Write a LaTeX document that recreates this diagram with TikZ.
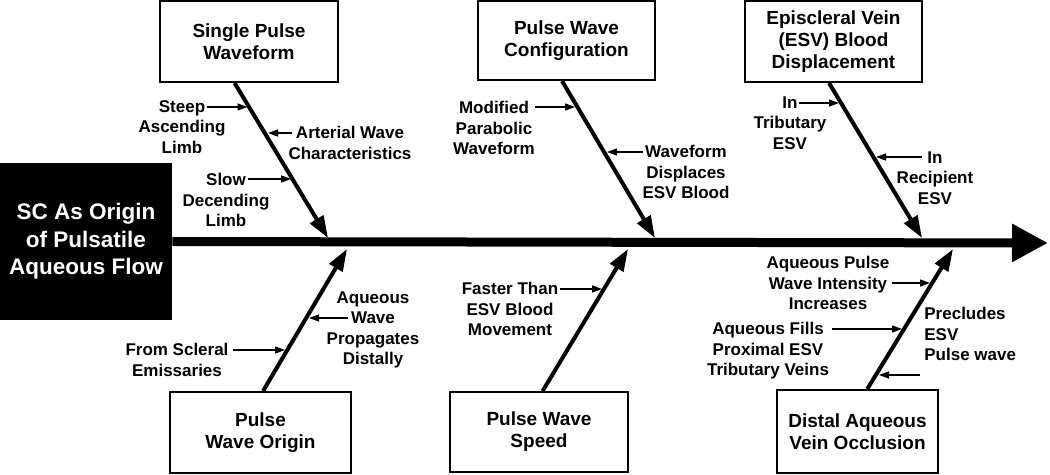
\documentclass[tikz,border=0pt]{standalone}
\usepackage{fontspec}
\setmainfont{Liberation Sans}
\usetikzlibrary{calc}
\usetikzlibrary{arrows.meta}
\tikzset{catbox/.style={draw, line width=1pt, align=center, inner sep=0pt, font=\fontsize{9.5}{11}\selectfont\bfseries}}
\tikzset{sourcebox/.style={fill=black, text=white, align=center, inner sep=0pt, minimum width=86pt, minimum height=78.5pt, font=\fontsize{11.25}{13.75}\selectfont\bfseries}}
\tikzset{cause/.style={align=center, inner sep=0pt, font=\fontsize{8.5}{10.25}\selectfont\bfseries}}
\tikzset{spine/.style={line width=4.5pt, -{Triangle[length=18pt, width=18pt]}}}
\tikzset{bone/.style={line width=2pt, -{Triangle[length=11pt, width=7.5pt]}}}
\tikzset{pointer/.style={line width=0.7pt, -{Triangle[length=5pt, width=3.5pt]}}}

\begin{document}
\begin{tikzpicture}[x=0.5pt, y=-0.5pt]
\useasboundingbox (0,0) rectangle (1050,475);

\node (sc) [sourcebox] at (86,241.5) {SC As Origin\\of Pulsatile\\Aqueous Flow};
\coordinate (head) at (1048,243);
\draw[spine] (sc.east) to (head);

\node (b1) [catbox, minimum width=89pt, minimum height=40.5pt] at (249,41.5) {Single Pulse\\Waveform};
\node (b2) [catbox, minimum width=88.5pt, minimum height=39.5pt] at (566.5,40.5) {Pulse Wave\\Configuration};
\node (b3) [catbox, minimum width=88.5pt, minimum height=40.5pt] at (833.5,41.5) {Episcleral Vein\\(ESV) Blood\\Displacement};
\node (b4) [catbox, minimum width=90.5pt, minimum height=40.5pt] at (260.5,432.5) {Pulse\\Wave Origin};
\node (b5) [catbox, minimum width=89pt, minimum height=40pt] at (539,432) {Pulse Wave\\Speed};
\node (b6) [catbox, minimum width=80.5pt, minimum height=41.5pt] at (857.5,431.5) {Distal Aqueous\\Vein Occlusion};

\coordinate (s1) at (328,238);
\coordinate (s2) at (655,238);
\coordinate (s3) at (922,238);
\coordinate (s4) at (347,249);
\coordinate (s5) at (628,249);
\coordinate (s6) at (953,249);

\draw[bone] ($(b1.south west)!0.42!(b1.south east)$) to (s1);
\draw[bone] ($(b2.south west)!0.475!(b2.south east)$) to (s2);
\draw[bone] ($(b3.south west)!0.475!(b3.south east)$) to (s3);
\draw[bone] ($(b4.north west)!0.514!(b4.north east)$) to (s4);
\draw[bone] ($(b5.north west)!0.52!(b5.north east)$) to (s5);
\draw[bone] ($(b6.north west)!0.56!(b6.north east)$) to (s6);

\node (c1) [cause] at (182,127) {Steep\\Ascending\\Limb};
\node (c2) [cause] at (350,143) {Arterial Wave\\Characteristics};
\node (c3) [cause] at (226,200) {Slow\\Decending\\Limb};
\node (c4) [cause] at (494,128) {Modified\\Parabolic\\Waveform};
\node (c5) [cause] at (686,172) {Waveform\\Displaces\\ESV Blood};
\node (c6) [cause] at (790,123) {In\\Tributary\\ESV};
\node (c7) [cause] at (935,178) {In\\Recipient\\ESV};
\node (c8) [cause] at (177,360) {From Scleral\\Emissaries};
\node (c9) [cause] at (373,330) {Aqueous\\Wave\\Propagates\\Distally};
\node (c10) [cause] at (510,309) {Faster Than\\ESV Blood\\Movement};
\node (c11) [cause] at (828,283) {Aqueous Pulse\\Wave Intensity\\Increases};
\node (c12) [cause] at (768,351) {Aqueous Fills\\Proximal ESV\\Tributary Veins};
\node (c13) [cause, align=left, anchor=west] at (924,334) {Precludes\\ESV\\Pulse wave};

\coordinate (p1) at (207,107);   \coordinate (q1) at (247.5,107);
\coordinate (p2) at (292,133);   \coordinate (q2) at (268,133);
\coordinate (p3) at (248,179);   \coordinate (q3) at (291,179);
\coordinate (p4) at (535,107);   \coordinate (q4) at (575,107);
\coordinate (p5) at (643,152);   \coordinate (q5) at (607,152);
\coordinate (p6) at (799,103);   \coordinate (q6) at (839,103);
\coordinate (p7) at (922,157);   \coordinate (q7) at (876,157);
\coordinate (p8) at (233,350);   \coordinate (q8) at (285,350);
\coordinate (p9) at (348,318);   \coordinate (q9) at (309,318);
\coordinate (p10) at (560,289);  \coordinate (q10) at (602,289);
\coordinate (p11) at (892,283);  \coordinate (q11) at (930,283);
\coordinate (p12) at (832,329);  \coordinate (q12) at (902,329);
\coordinate (p13) at (920,375);  \coordinate (q13) at (879,375);

\draw[pointer] (p1) to (q1);
\draw[pointer] (p2) to (q2);
\draw[pointer] (p3) to (q3);
\draw[pointer] (p4) to (q4);
\draw[pointer] (p5) to (q5);
\draw[pointer] (p6) to (q6);
\draw[pointer] (p7) to (q7);
\draw[pointer] (p8) to (q8);
\draw[pointer] (p9) to (q9);
\draw[pointer] (p10) to (q10);
\draw[pointer] (p11) to (q11);
\draw[pointer] (p12) to (q12);
\draw[pointer] (p13) to (q13);
\end{tikzpicture}
\end{document}
